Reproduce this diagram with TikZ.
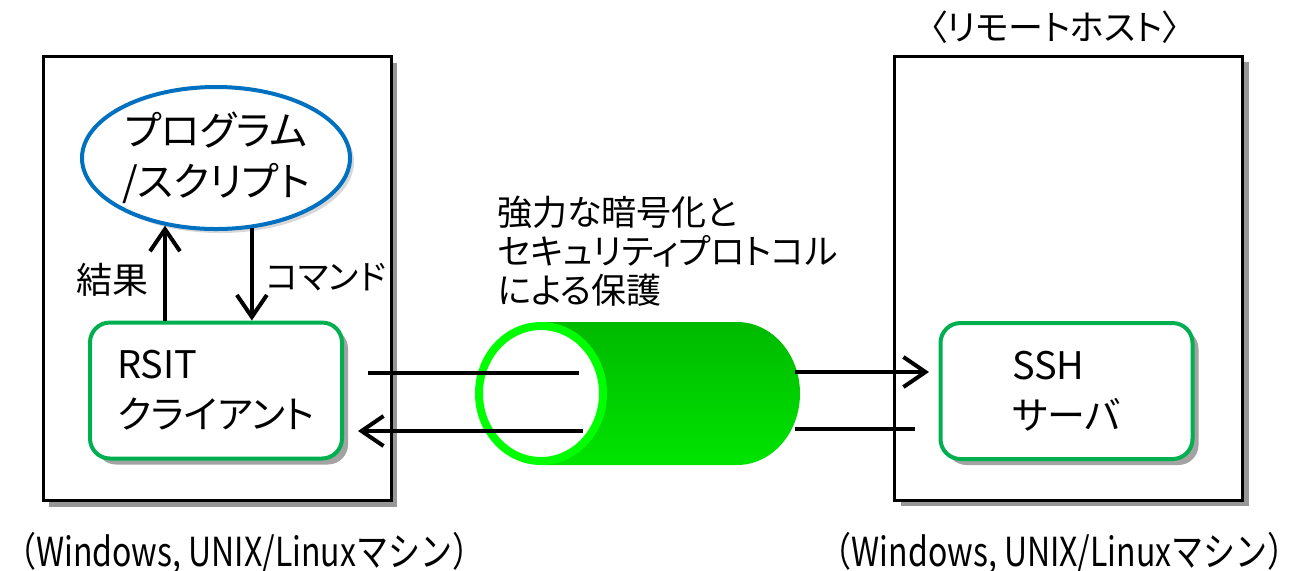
\documentclass[tikz,border=0pt]{standalone}
\usepackage{fontspec}
\setmainfont{Noto Sans CJK JP}[RawFeature=+palt]
\newfontfamily\condfont{Noto Sans CJK JP}[FakeStretch=0.8]
\usetikzlibrary{shapes.geometric,shadows,arrows.meta}
\definecolor{progblue}{RGB}{0,112,192}
\definecolor{boxgreen}{RGB}{0,176,80}
\definecolor{tubetop}{RGB}{0,185,0}
\definecolor{tubemid}{RGB}{0,238,0}
\definecolor{tubebot}{RGB}{0,228,0}
\definecolor{rimgreen}{RGB}{0,255,0}
\tikzset{
  hostbox/.style={draw=black, line width=1.5pt, fill=white, inner sep=0pt,
    minimum width=174pt, minimum height=222pt,
    drop shadow={shadow xshift=3pt, shadow yshift=-3pt, fill=black!45, opacity=0.9}},
  progell/.style={ellipse, draw=progblue, line width=2pt, fill=white, inner sep=0pt,
    minimum width=134pt, minimum height=71pt, align=center,
    font=\fontsize{20pt}{25.5pt}\selectfont,
    drop shadow={shadow xshift=2pt, shadow yshift=-2pt, fill=black!25, opacity=0.6}},
  swbox/.style={draw=boxgreen, line width=2pt, fill=white, rounded corners=10pt,
    inner sep=0pt, minimum width=126pt, minimum height=68pt, align=left,
    font=\fontsize{19pt}{25pt}\selectfont,
    drop shadow={shadow xshift=3pt, shadow yshift=-3pt, fill=black!45, opacity=0.8}},
  lbl/.style={inner sep=0pt, font=\fontsize{17pt}{20pt}\selectfont},
  conn/.style={line width=2pt},
  arr/.style={line width=2pt, -{Straight Barb[length=11pt, width=15pt, line width=2pt]}},
  oslbl/.style={inner sep=0pt, font=\condfont\fontsize{20pt}{22pt}\selectfont},
}
\begin{document}
\begin{tikzpicture}[x=0.5pt,y=-0.5pt]
\useasboundingbox (0,0) rectangle (1307,570);

% host boxes
\node[hostbox] (lhost) at (217,278.5) {};
\node[hostbox] (rhost) at (1068.5,278) {};

% program ellipse
\node[progell] (prog) at (216,158) {プログラム\\/スクリプト};

% software boxes
\node[swbox] (rsit) at (216,390.5) {RSIT\\クライアント};
\node[swbox] (ssh) at (1066.5,391) {SSH\\サーバ};

% arrows between program and client
\draw[arr] (prog.233 |- rsit.north) -- (prog.233);
\draw[arr] (prog.297) -- (prog.297 |- rsit.north);
\node[lbl, font=\fontsize{18pt}{20pt}\selectfont] (kekka) at (112,280) {結果};
\node[lbl] (cmd) at (326,277) {コマンド};

% tunnel (cylinder)
\shade[top color=tubetop, middle color=tubemid, bottom color=tubebot]
  (541,322) -- (737,322) arc[start angle=90, end angle=-90, x radius=31.5pt, y radius=35.75pt]
  -- (541,465) -- cycle;
\draw[rimgreen, line width=4pt, fill=white] (541,393.5) ellipse[x radius=31pt, y radius=33.75pt];

% connectors through the tunnel
\coordinate (c1a) at (368,373);
\coordinate (c1b) at (579,373);
\coordinate (c2a) at (795,372);
\coordinate (c2b) at (929,372);
\coordinate (c3a) at (915,429);
\coordinate (c3b) at (795,429);
\coordinate (c4a) at (583,431);
\coordinate (c4b) at (358,431);
\draw[conn] (c1a) -- (c1b);
\draw[arr] (c2a) -- (c2b);
\draw[conn] (c3a) -- (c3b);
\draw[arr] (c4a) -- (c4b);

% labels
\node[lbl, anchor=west, align=left, font=\fontsize{17.5pt}{19.5pt}\selectfont] (prot) at (497,251)
  {強力な暗号化と\\セキュリティプロトコル\\による保護};
\node[lbl, font=\fontsize{17.5pt}{20pt}\selectfont] (remote) at (1055,27) {〈リモートホスト〉};
\node[oslbl, anchor=west] (os1) at (4,553) {（Windows, UNIX/Linuxマシン）};
\node[oslbl, anchor=east] (os2) at (1300,553) {（Windows, UNIX/Linuxマシン）};
\end{tikzpicture}
\end{document}
